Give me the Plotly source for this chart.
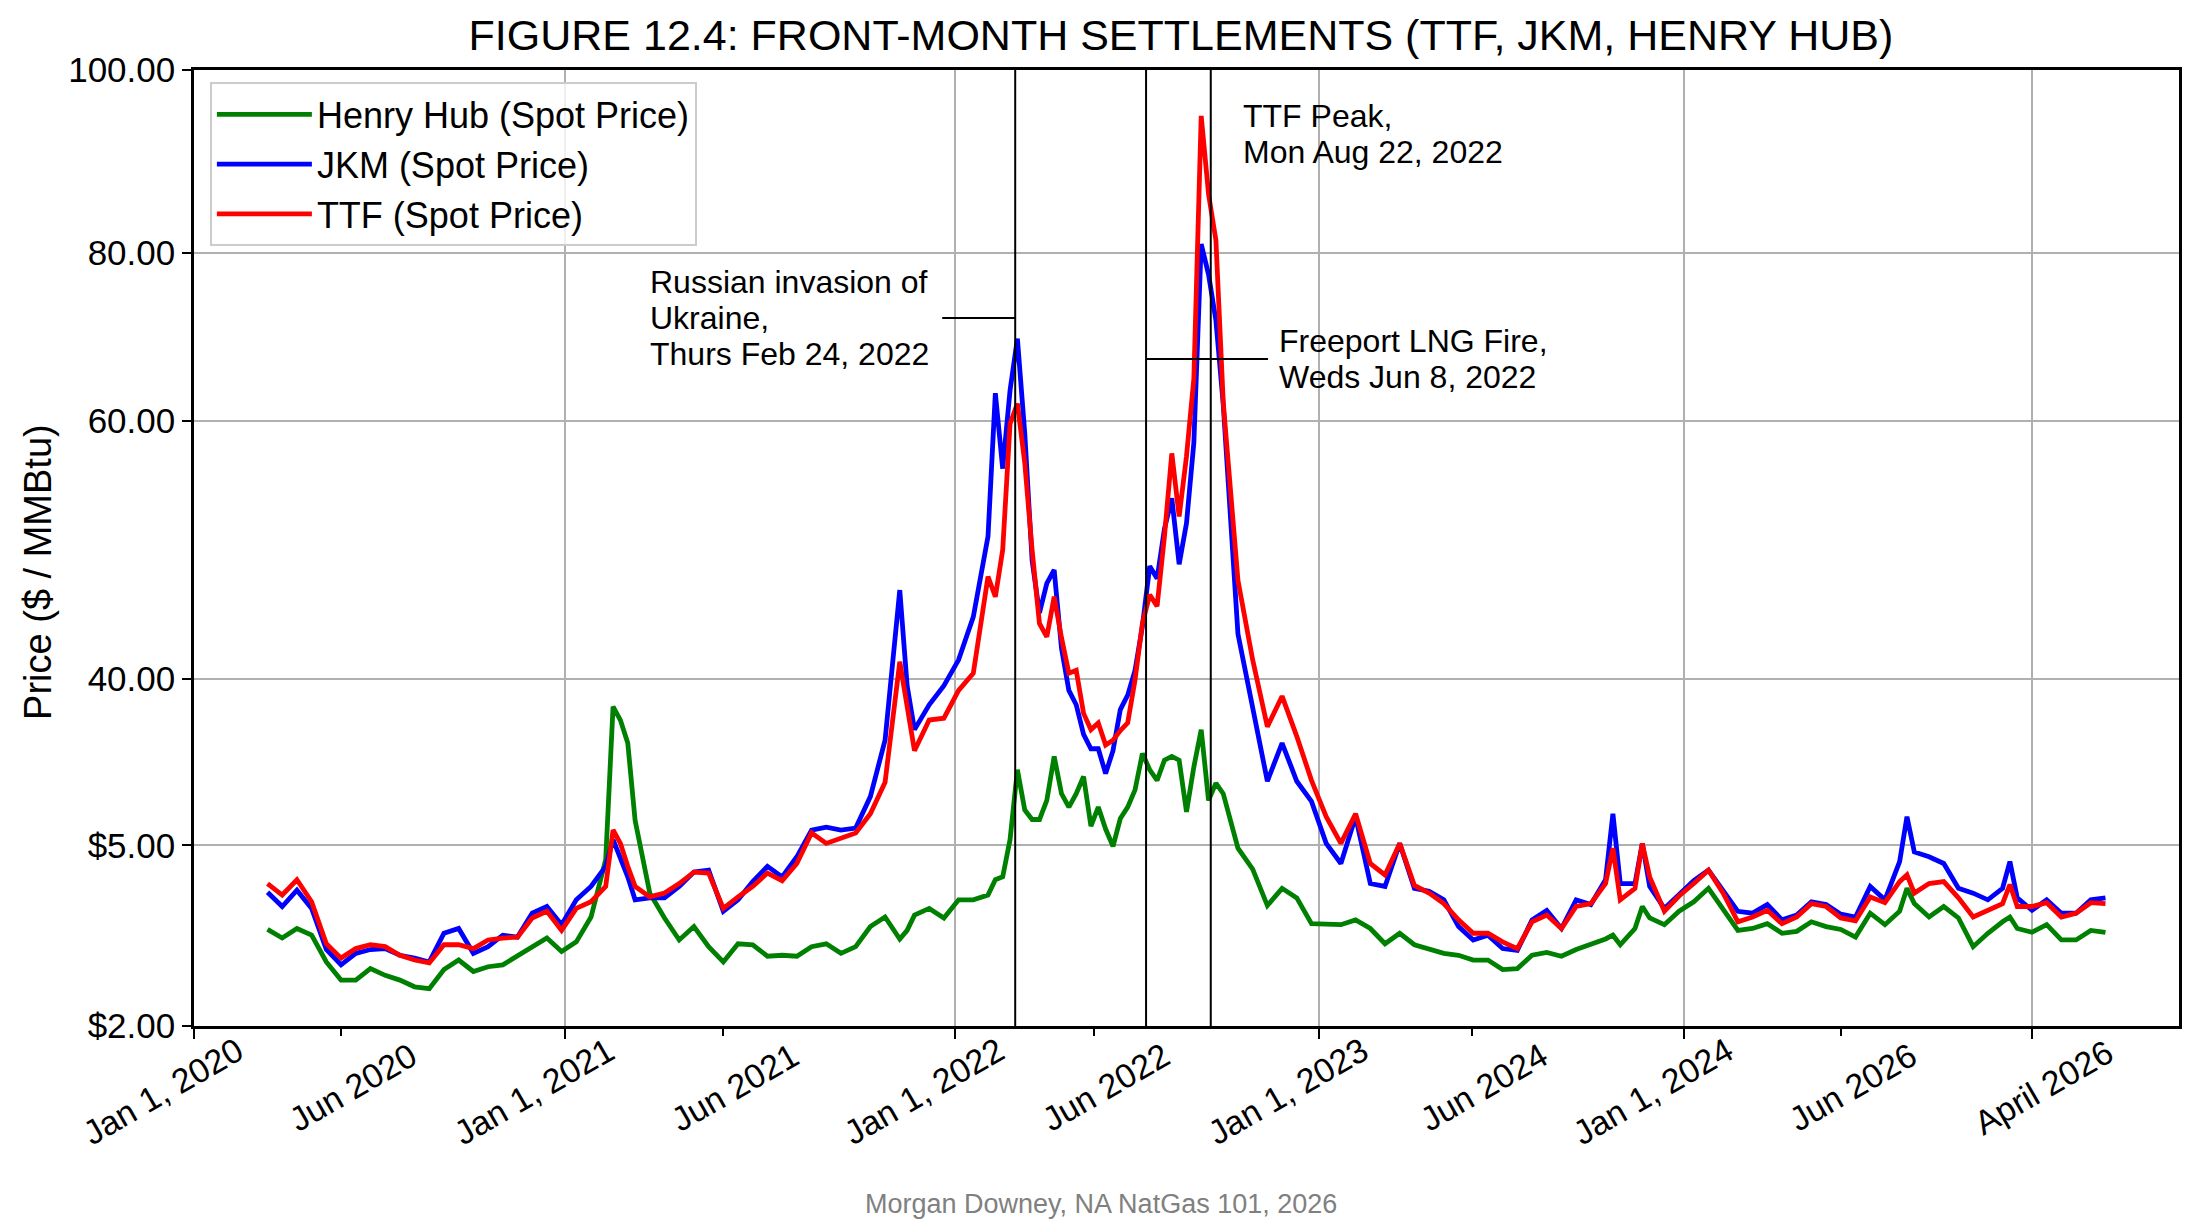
import plotly.graph_objects as go

# ---------------- data (x = week index on the chart's own axis, y = value on the chart's axis scale) ----------------
WEEK = [10, 12, 14, 16, 18, 20, 22, 24, 26, 28,
        30, 32, 34, 36, 38, 40, 42, 44, 46, 48,
        50, 52, 54, 56, 57, 58, 59, 60, 62, 64,
        66, 68, 70, 72, 74, 76, 78, 80, 82, 84,
        86, 88, 90, 92, 94, 96, 97, 98, 100, 102,
        104, 106, 108, 109, 110, 111,
        112, 113, 114, 115, 116, 117, 118, 119, 120, 121, 122, 123, 124,
        125, 126, 127, 128, 129, 130, 131, 132, 133, 134, 135, 136, 137,
        138, 139, 140, 142, 144, 146, 148, 150, 152, 154,
        156, 158, 160, 162, 164, 166, 168, 170, 172, 174,
        176, 178, 180, 182, 184, 186, 188, 190, 192, 193,
        194, 196, 197, 198, 200, 202, 204, 206, 208, 210,
        212, 214, 216, 218, 220, 222, 224, 226, 228, 230,
        232, 233, 234, 236, 238, 240, 242, 244, 246, 247,
        248, 250, 252, 254, 256, 258, 260]

HENRY_HUB = [10.1, 9.2, 10.2, 9.5, 6.7, 4.8, 4.8, 6.0, 5.3, 4.8,
             4.1, 3.9, 5.9, 6.9, 5.7, 6.2, 6.4, 7.3, 8.3, 9.2,
             7.8, 8.8, 11.4, 17.4, 33.4, 32.0, 29.6, 21.5, 13.9, 11.3,
             9.0, 10.4, 8.3, 6.7, 8.6, 8.5, 7.3, 7.4, 7.3, 8.3,
             8.6, 7.6, 8.3, 10.4, 11.4, 9.1, 10.0, 11.6, 12.3, 11.3,
             13.2, 13.2, 13.7, 15.3, 15.6, 19.5,
             26.8, 22.6, 21.6, 21.6, 23.6, 28.2, 24.3, 22.9, 24.3, 26.1, 20.9, 22.9, 20.6,
             18.8, 21.7, 22.9, 24.7, 28.5, 26.8, 25.7, 27.8, 28.2, 27.8, 22.4, 27.1, 31.0,
             23.6, 25.4, 24.3, 18.6, 16.4, 12.6, 14.4, 13.4, 10.7, 10.6,
             10.6, 11.1, 10.2, 8.6, 9.7, 8.5, 8.0, 7.6, 7.4, 6.9,
             6.9, 5.9, 6.0, 7.4, 7.7, 7.3, 8.0, 8.5, 9.1, 9.5,
             8.5, 10.2, 12.5, 11.3, 10.6, 12.0, 13.0, 14.4, 12.1, 10.0,
             10.2, 10.7, 9.7, 9.9, 10.9, 10.4, 10.1, 9.3, 11.8, 10.6,
             12.0, 14.4, 12.8, 11.4, 12.5, 11.3, 8.3, 9.7, 10.9, 11.4,
             10.2, 9.8, 10.6, 9.0, 9.0, 10.0, 9.8]

JKM = [14.0, 12.5, 14.2, 12.3, 8.0, 6.4, 7.6, 8.0, 8.1, 7.4,
       7.1, 6.7, 9.7, 10.2, 7.6, 8.3, 9.5, 9.3, 11.8, 12.5,
       10.6, 13.2, 14.6, 16.7, 19.5, 17.7, 15.6, 13.2, 13.4, 13.4,
       14.6, 16.1, 16.3, 12.0, 13.2, 15.1, 16.7, 15.6, 17.7, 20.5,
       20.8, 20.5, 20.7, 24.0, 29.9, 45.6, 35.6, 31.0, 33.6, 35.6,
       38.3, 42.8, 51.2, 66.2, 58.3, 66.5,
       71.9, 62.0, 48.7, 43.2, 46.3, 47.7, 39.5, 35.1, 33.6, 30.5, 29.0, 29.0, 26.4,
       28.8, 33.1, 34.6, 37.2, 41.8, 48.1, 46.8, 52.0, 55.2, 48.3, 52.6, 61.0, 81.8,
       78.6, 73.8, 65.0, 41.0, 33.4, 25.6, 29.6, 25.6, 23.5, 19.1,
       17.0, 21.9, 14.9, 14.6, 19.1, 14.4, 14.1, 13.2, 10.4, 9.0,
       9.5, 8.1, 7.9, 11.1, 12.1, 10.2, 13.2, 12.7, 15.3, 22.2,
       14.9, 14.9, 19.1, 14.6, 12.3, 13.8, 15.2, 16.3, 14.2, 12.0,
       11.8, 12.7, 11.1, 11.6, 13.0, 12.7, 11.7, 11.4, 14.6, 13.2,
       17.2, 21.9, 18.2, 17.7, 17.0, 14.4, 13.9, 13.2, 14.4, 17.2,
       13.4, 12.1, 13.2, 11.8, 11.8, 13.2, 13.4]

TTF = [14.9, 13.7, 15.3, 13.0, 8.6, 7.1, 8.1, 8.5, 8.3, 7.4,
       6.9, 6.6, 8.5, 8.5, 8.1, 9.0, 9.2, 9.3, 11.3, 12.0,
       10.0, 12.3, 13.0, 14.6, 20.5, 19.1, 16.7, 14.6, 13.5, 13.9,
       14.9, 16.1, 16.0, 12.3, 13.5, 14.6, 16.0, 15.2, 17.0, 20.2,
       19.1, 19.6, 20.2, 22.2, 25.5, 38.1, 33.1, 28.8, 32.0, 32.2,
       35.1, 36.9, 47.0, 44.9, 49.8, 63.0,
       65.1, 58.9, 49.8, 42.1, 40.7, 44.9, 40.6, 36.9, 37.2, 32.7, 31.0, 31.7, 29.4,
       29.9, 30.9, 31.7, 36.2, 42.1, 45.1, 43.9, 51.2, 59.9, 53.3, 59.6, 67.7, 95.2,
       87.0, 82.2, 65.2, 46.6, 38.3, 31.3, 34.5, 30.3, 25.7, 21.9,
       19.1, 22.2, 17.0, 15.8, 19.1, 14.7, 13.9, 12.8, 11.1, 9.7,
       9.7, 8.8, 8.1, 10.9, 11.6, 10.2, 12.5, 12.8, 14.9, 18.6,
       13.2, 14.4, 19.1, 15.6, 12.0, 13.6, 14.9, 16.3, 13.9, 10.9,
       11.4, 12.1, 10.7, 11.4, 12.8, 12.5, 11.3, 11.0, 13.5, 12.9,
       15.1, 15.8, 13.9, 14.9, 15.1, 13.4, 11.4, 12.1, 12.8, 14.8,
       12.5, 12.5, 12.9, 11.4, 11.8, 12.9, 12.8]

SERIES_NAMES = ["Henry Hub (Spot Price)", "JKM (Spot Price)", "TTF (Spot Price)"]

# axis ticks (positions on the chart's axis, and the labels printed there)
Y_TICK_POS = [0, 18.9, 36.3, 63.3, 80.9, 100]
Y_TICK_LABELS = ["$2.00", "$5.00", "40.00", "60.00", "80.00", "100.00"]
X_MAJOR_POS = [0, 50.5, 103.5, 153.0, 202.7, 250.0]
X_MAJOR_LABELS = ["Jan 1, 2020", "Jan 1, 2021", "Jan 1, 2022", "Jan 1, 2023", "Jan 1, 2024", "April 2026"]
X_MINOR_POS = [20.0, 72.0, 122.4, 173.8, 224.0]
X_MINOR_LABELS = ["Jun 2020", "Jun 2021", "Jun 2022", "Jun 2024", "Jun 2026"]

# events
EVENT_WEEK = [111.7, 129.5, 138.3]
EVENT_TEXT = [["Russian invasion of", "Ukraine,", "Thurs Feb 24, 2022"],
              ["Freeport LNG Fire,", "Weds Jun 8, 2022"],
              ["TTF Peak,", "Mon Aug 22, 2022"]]

# ---------------- styling ----------------
FONT = "Liberation Sans, Arial, Helvetica, sans-serif"
COLORS = ["#008000", "#0000ff", "#ff0000"]
X_RANGE = [0, 270]
Y_RANGE = [0, 100]
PLOT_W, PLOT_H = 1985, 956
PX_PER_X = PLOT_W / float(X_RANGE[1] - X_RANGE[0])
PX_PER_Y = PLOT_H / float(Y_RANGE[1] - Y_RANGE[0])

fig = go.Figure()
for name, vals, color in zip(SERIES_NAMES, [HENRY_HUB, JKM, TTF], COLORS):
    fig.add_trace(go.Scatter(x=WEEK, y=vals, mode="lines", name=name,
                             line=dict(color=color, width=4.8)))

# event vertical lines
for wx in EVENT_WEEK:
    fig.add_shape(type="line", xref="x", yref="paper", x0=wx, x1=wx, y0=0, y1=1,
                  line=dict(color="black", width=2), layer="above")

annotations = []
# event labels with leader lines
label_specs = [
    # (event index, text x offset in px from line, first-line y in px above bottom, leader)
    (0, -367, 744, True),
    (1, 131, 685, True),
    (2, 30, 910, False),
]
LINE_STEP = 36
for idx, dx_px, y0_px, leader in label_specs:
    ex = EVENT_WEEK[idx]
    tx = ex + dx_px / PX_PER_X
    for k, line in enumerate(EVENT_TEXT[idx]):
        ty = (y0_px - k * LINE_STEP) / PX_PER_Y
        annotations.append(dict(x=tx, y=ty, xref="x", yref="y", text=line, showarrow=False,
                                xanchor="left", yanchor="middle",
                                font=dict(size=32, color="black", family=FONT)))
    if leader:
        nlines = len(EVENT_TEXT[idx])
        ly = (y0_px - (nlines - 1) * LINE_STEP / 2) / PX_PER_Y
        if dx_px < 0:
            lx0, lx1 = ex - 73 / PX_PER_X, ex
        else:
            lx0, lx1 = ex, ex + 122 / PX_PER_X
        fig.add_shape(type="line", xref="x", yref="y", x0=lx0, x1=lx1, y0=ly, y1=ly,
                      line=dict(color="black", width=2), layer="above")

# rotated x tick labels (placed in paper coordinates so the first one may sit left of the axis)
for pos, lab in list(zip(X_MAJOR_POS, X_MAJOR_LABELS)) + list(zip(X_MINOR_POS, X_MINOR_LABELS)):
    if lab.startswith("Jan"):
        shift_px, cy = -31, -0.068
    else:
        shift_px, cy = 12, -0.064
    px = (pos - X_RANGE[0]) * PX_PER_X + shift_px
    annotations.append(dict(x=px / PLOT_W, y=cy, xref="paper", yref="paper", text=lab,
                            showarrow=False, textangle=-30, xanchor="center", yanchor="middle",
                            font=dict(size=34, color="black", family=FONT)))

# y axis title
annotations.append(dict(x=-0.0786, y=0.475, xref="paper", yref="paper", text="Price ($ / MMBtu)",
                        showarrow=False, textangle=-90, xanchor="center", yanchor="middle",
                        font=dict(size=38, color="black", family=FONT)))
# footer
annotations.append(dict(x=0.457, y=-0.186, xref="paper", yref="paper",
                        text="Morgan Downey, NA NatGas 101, 2026", showarrow=False,
                        xanchor="center", yanchor="middle",
                        font=dict(size=27, color="#808080", family=FONT)))

fig.update_layout(
    width=2200, height=1225,
    margin=dict(l=194, r=21, t=70, b=199),
    paper_bgcolor="white", plot_bgcolor="white",
    font=dict(family=FONT, size=34, color="black"),
    title=dict(text="FIGURE 12.4: FRONT-MONTH SETTLEMENTS (TTF, JKM, HENRY HUB)",
               xref="container", x=0.5368, xanchor="center",
               yref="container", y=1 - 35 / 1225, yanchor="middle",
               font=dict(size=43, color="black", family=FONT)),
    xaxis=dict(range=X_RANGE, tickmode="array", tickvals=X_MAJOR_POS,
               ticktext=X_MAJOR_LABELS, showticklabels=False,
               ticks="outside", ticklen=10, tickwidth=2, tickcolor="black",
               showgrid=True, gridcolor="#b0b0b0", gridwidth=1.5,
               showline=True, linecolor="black", linewidth=2.5, mirror=True, zeroline=False,
               minor=dict(tickvals=X_MINOR_POS, ticks="outside", ticklen=7, tickwidth=2,
                          tickcolor="black", showgrid=False)),
    yaxis=dict(range=Y_RANGE, tickmode="array", tickvals=Y_TICK_POS, ticktext=Y_TICK_LABELS,
               ticks="outside", ticklen=9, tickwidth=2, tickcolor="black",
               tickfont=dict(size=35, color="black", family=FONT),
               showgrid=True, gridcolor="#b0b0b0", gridwidth=1.5,
               showline=True, linecolor="black", linewidth=2.5, mirror=True, zeroline=False),
    legend=dict(x=0.008, y=0.987, xanchor="left", yanchor="top",
                bgcolor="rgba(255,255,255,0.8)", bordercolor="#cccccc", borderwidth=2,
                font=dict(size=36, color="black", family=FONT), itemwidth=95),
    annotations=annotations,
    showlegend=True,
)

fig.write_html("out.html")
